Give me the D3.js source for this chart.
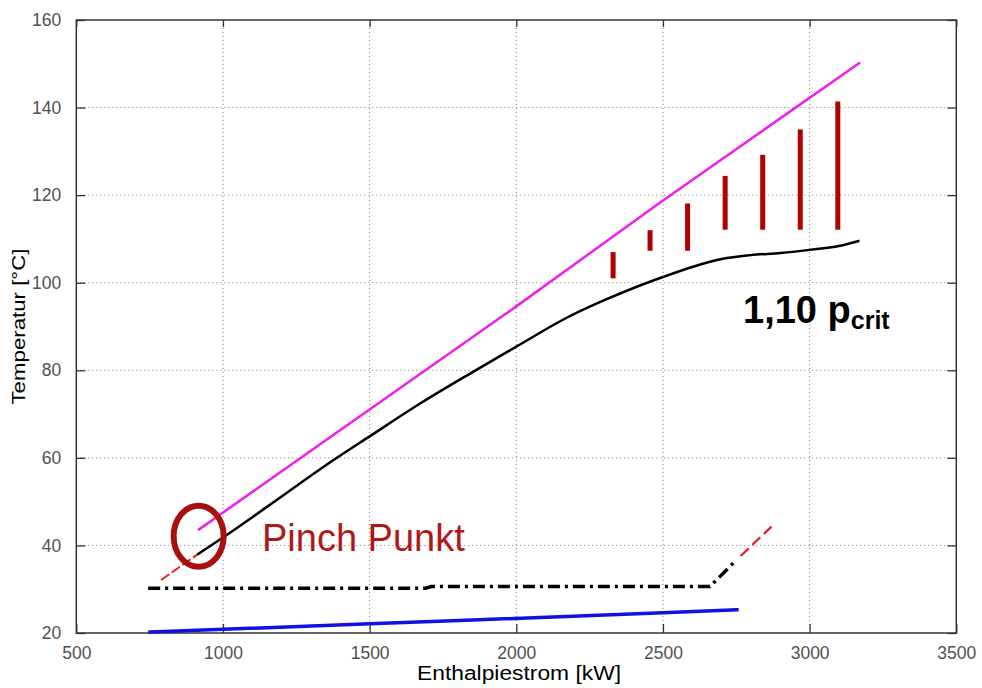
<!DOCTYPE html>
<html lang="en">
<head>
    <meta charset="UTF-8">
    <title>Pinch Punkt</title>
    <style>
        body{
            margin: 0;
            background: #fff;
        }
        svg text{
            font-family: "Liberation Sans", Arial, sans-serif;
        }
    </style>
</head>
<body>

<svg id="chart" width="982" height="688"></svg>

<script src="https://d3js.org/d3.v7.min.js"></script>

<script>

// ticks
var xTicks = [500, 1000, 1500, 2000, 2500, 3000, 3500],
    yTicks = [20, 40, 60, 80, 100, 120, 140, 160];

// curves [kW, °C]
var hotCurve = [[912, 37.9], [1000, 41.8], [1150, 48.8], [1377, 59.5], [1500, 64.9],
    [1672, 72.4], [1854, 79.7], [2000, 85.4], [2172, 92.0], [2300, 96.0], [2400, 98.8],
    [2500, 101.3], [2600, 103.6], [2700, 105.4], [2800, 106.3], [2900, 106.8],
    [3000, 107.5], [3100, 108.4], [3170, 109.6]];
var magentaLine = [[915, 43.5], [2000, 94.6], [2500, 118.8], [3172, 150.3]];
var dashDotLine = [[745, 30.2], [1690, 30.2], [1710, 30.6], [2660, 30.6], [2745, 36.3]];
var redLow = [[789, 32.1], [912, 37.9]],
    redHigh = [[2765, 37.6], [2870, 44.3]];
var blueLine = [[745, 20.2], [1500, 22.1], [2500, 24.6], [2758, 25.3]];

// temperature difference bars
var barX = [2330, 2456, 2584, 2712, 2840, 2968, 3096],
    barTop = [107, 112, 118.1, 124.4, 129.2, 135, 141.4],
    barBottom = [101, 107.3, 107.3, 112.1, 112.1, 112.1, 112.1];

var pinch = [917, 42.1];

var svg = d3.select("#chart"),
    margin = {top: 20, left: 76.3},
    width = 880,
    height = 613,
    g = svg.append("g").attr("transform", `translate(${margin.left},${margin.top})`);

var x = d3.scaleLinear().domain([500, 3500]).range([0, width]),
    y = d3.scaleLinear().domain([20, 160]).range([height, 0]);

// dotted grid
g.selectAll(".gx")
    .data(xTicks.slice(1, -1))
    .enter().append("line")
    .attr("x1", d => x(d)).attr("x2", d => x(d))
    .attr("y1", 0).attr("y2", height)
    .attr("stroke", "#777").attr("stroke-dasharray", "1,3");
g.selectAll(".gy")
    .data(yTicks.slice(1, -1))
    .enter().append("line")
    .attr("y1", d => y(d)).attr("y2", d => y(d))
    .attr("x1", 0).attr("x2", width)
    .attr("stroke", "#777").attr("stroke-dasharray", "1,3");

// axes, ticks inside
var axisColor = "#333",
    fmt = d3.format("d");
function styleAxis(sel) {
    sel.select(".domain").remove();
    sel.selectAll(".tick line").attr("stroke", axisColor).attr("stroke-width", 1.3);
    sel.selectAll(".tick text").attr("fill", "#505050").style("font-size", "17.5px");
}
g.append("g").attr("transform", `translate(0,${height})`)
    .call(d3.axisBottom(x).tickValues(xTicks).tickFormat(fmt).tickSizeInner(-9).tickPadding(14))
    .call(styleAxis);
g.append("g")
    .call(d3.axisLeft(y).tickValues(yTicks).tickFormat(fmt).tickSizeInner(-9).tickPadding(15))
    .call(styleAxis);
g.append("g")
    .call(d3.axisTop(x).tickValues(xTicks).tickSizeInner(-7).tickFormat(""))
    .call(styleAxis);
g.append("g").attr("transform", `translate(${width},0)`)
    .call(d3.axisRight(y).tickValues(yTicks).tickSizeInner(-9).tickFormat(""))
    .call(styleAxis);
g.append("rect")
    .attr("width", width).attr("height", height)
    .attr("fill", "none").attr("stroke", axisColor).attr("stroke-width", 1.5);

var line = d3.line().x(d => x(d[0])).y(d => y(d[1])).curve(d3.curveMonotoneX),
    straight = d3.line().x(d => x(d[0])).y(d => y(d[1]));

function drawLine(data, color, w, dash, gen) {
    g.append("path")
        .datum(data)
        .attr("d", gen || line)
        .attr("fill", "none")
        .attr("stroke", color)
        .attr("stroke-width", w)
        .attr("stroke-dasharray", dash || null);
}
drawLine(blueLine, "#1010e0", 3.5);
drawLine(dashDotLine, "#000", 3.5, "12,5,3,5", straight);
drawLine(redLow, "#ee1c1c", 2, "10,3");
drawLine(redHigh, "#ee1c1c", 2.2, "11,5");
drawLine(magentaLine, "#ee1eee", 2.5, null, straight);
drawLine(hotCurve, "#000", 2.5);

// bars
g.selectAll(".bar")
    .data(barX)
    .enter().append("rect")
    .attr("x", d => x(d) - 2.5)
    .attr("width", 5)
    .attr("y", (d, i) => y(barTop[i]))
    .attr("height", (d, i) => y(barBottom[i]) - y(barTop[i]))
    .attr("fill", "#b00000");

// pinch marker
g.append("ellipse")
    .attr("cx", x(pinch[0])).attr("cy", y(pinch[1]))
    .attr("rx", 25).attr("ry", 30.5)
    .attr("fill", "none").attr("stroke", "#a81010").attr("stroke-width", 6);

g.append("text")
    .attr("x", x(1133)).attr("y", y(38.7))
    .attr("fill", "#b01818")
    .style("font-size", "38px")
    .text("Pinch Punkt");

var crit = g.append("text")
    .attr("x", x(2773)).attr("y", y(90.8))
    .attr("fill", "#000")
    .style("font-size", "38px")
    .style("font-weight", "bold");
crit.append("tspan").text("1,10 p");
crit.append("tspan").attr("dy", 6).style("font-size", "25px").text("crit");

// axis titles
svg.append("text")
    .attr("x", 519).attr("y", 680)
    .attr("text-anchor", "middle")
    .attr("textLength", 204).attr("lengthAdjust", "spacingAndGlyphs")
    .style("font-size", "20px")
    .text("Enthalpiestrom [kW]");
svg.append("text")
    .attr("transform", "translate(25,326.5) rotate(-90)")
    .attr("text-anchor", "middle")
    .attr("textLength", 156).attr("lengthAdjust", "spacingAndGlyphs")
    .style("font-size", "18.5px")
    .text("Temperatur [°C]");

</script>

</body>
</html>
